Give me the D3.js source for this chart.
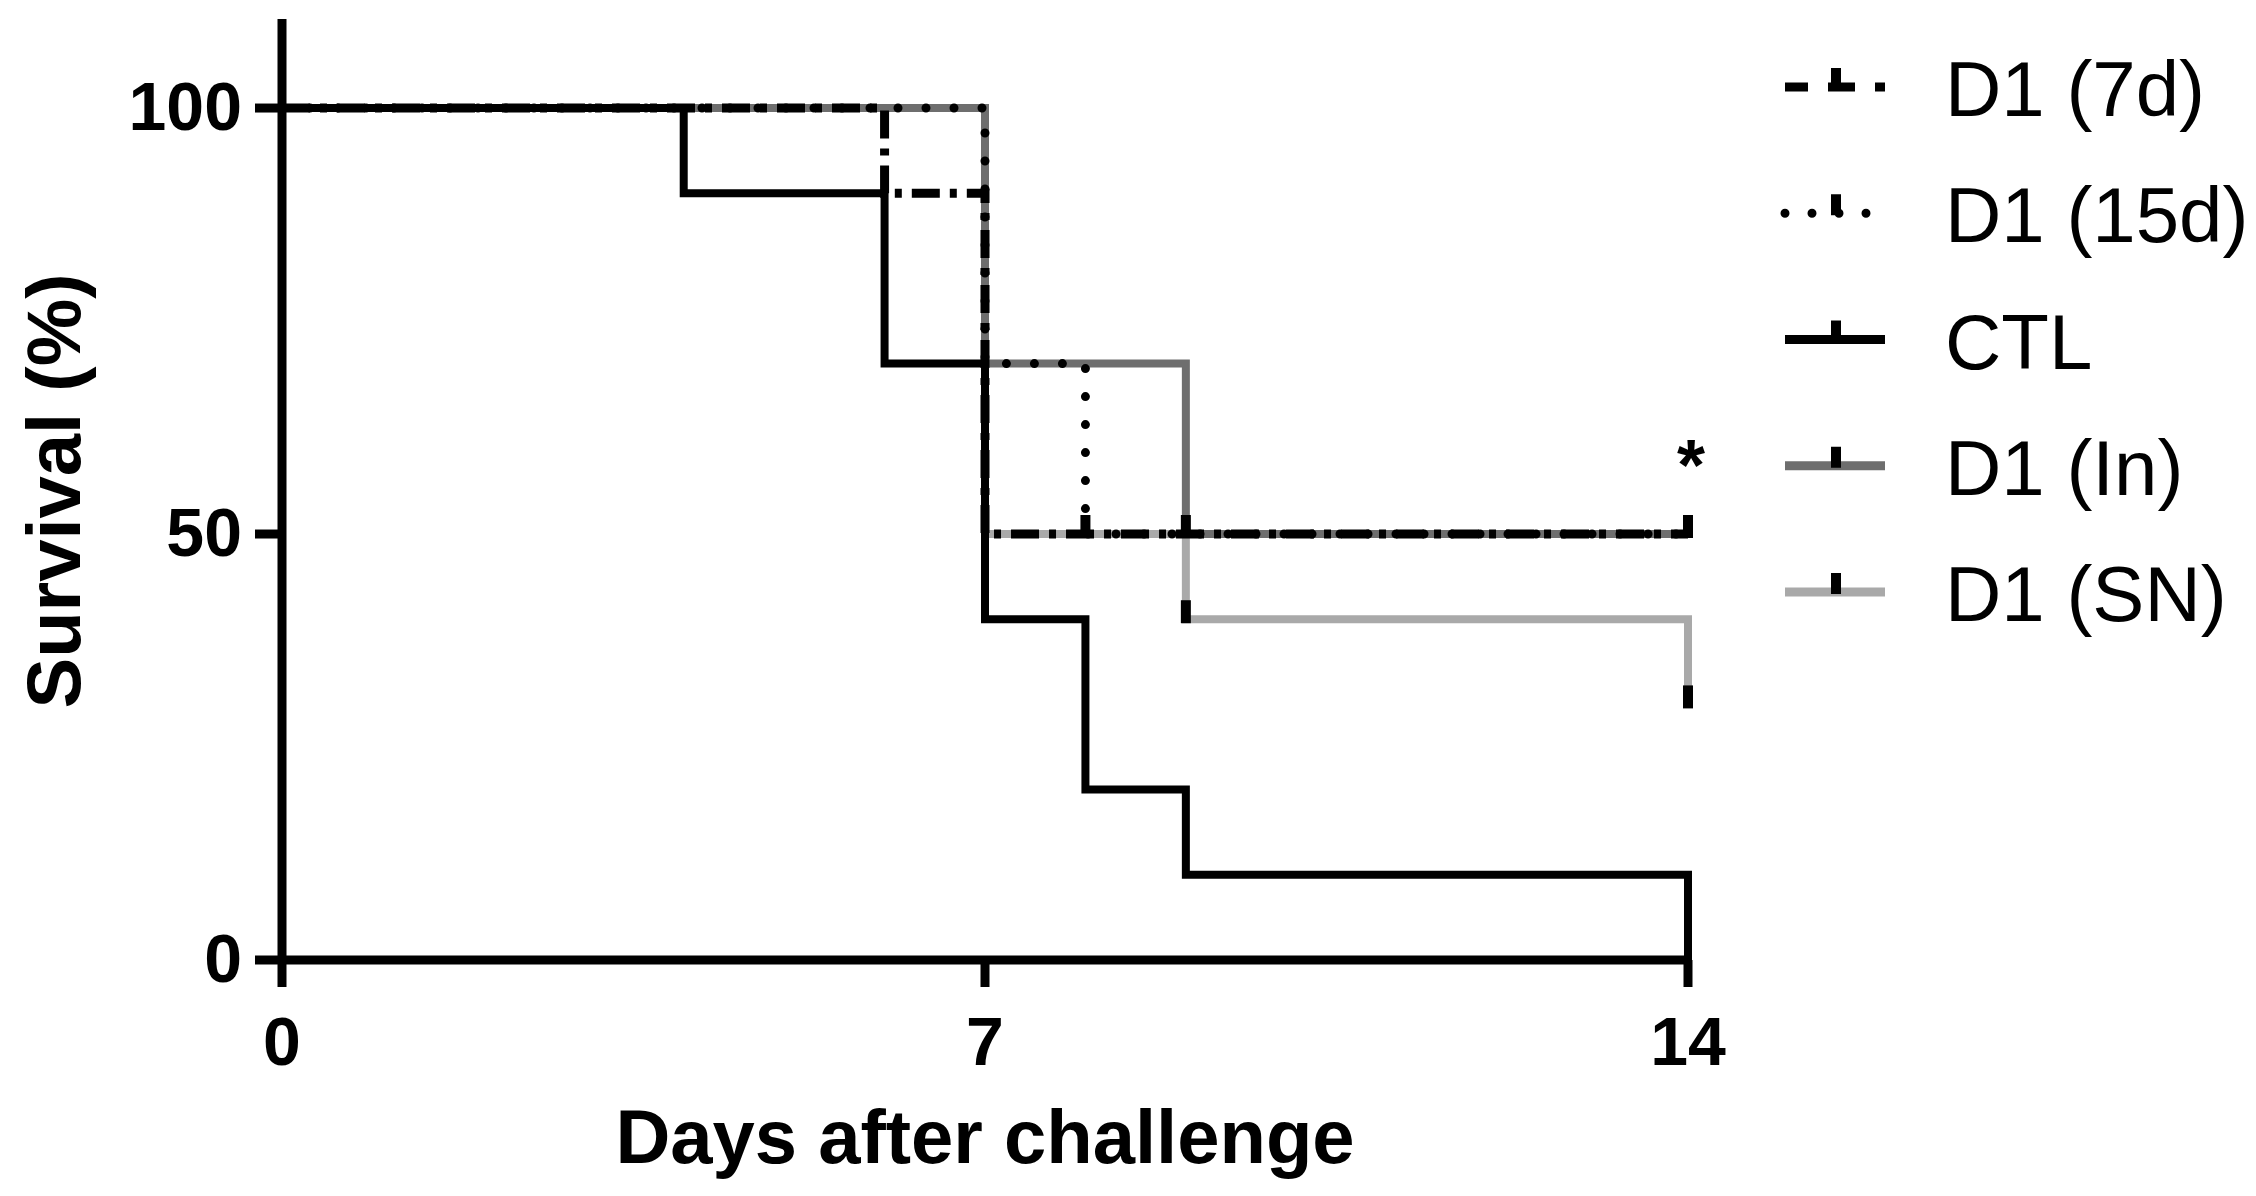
<!DOCTYPE html>
<html>
<head>
<meta charset="utf-8">
<script src="https://cdn.jsdelivr.net/npm/d3@7"></script>
<style>
  html, body { margin: 0; padding: 0; background: #fff; }
  svg { display: block; }
  text { font-family: "Liberation Sans", Arial, Helvetica, sans-serif; fill: #000; }
</style>
</head>
<body>
<svg id="chart" width="2256" height="1196"></svg>
<script>
// ---------------- DATA ----------------
const seriesNames = ["D1 (7d)", "D1 (15d)", "CTL", "D1 (In)", "D1 (SN)"];

// Kaplan-Meier steps: day of change -> survival (%) from that day on
const d7Days  = [0, 6, 7, 14];
const d7Surv  = [100, 90, 50, 50];
const d15Days = [0, 7, 8, 14];
const d15Surv = [100, 70, 50, 50];
const ctlDays = [0, 4, 6, 7, 8, 9, 14];
const ctlSurv = [100, 90, 70, 40, 20, 10, 0];
const inDays  = [0, 7, 9, 14];
const inSurv  = [100, 70, 50, 50];
const snDays  = [0, 7, 9, 14];
const snSurv  = [100, 50, 40, 30];

// censored observations (tick marks)
const d7CensorDays  = [14];
const d7CensorSurv  = [50];
const d15CensorDays = [8, 14];
const d15CensorSurv = [50, 50];
const ctlCensorDays = [];
const ctlCensorSurv = [];
const inCensorDays  = [9, 14];
const inCensorSurv  = [50, 50];
const snCensorDays  = [9, 14];
const snCensorSurv  = [40, 30];

const xTickValues = [0, 7, 14];
const yTickValues = [0, 50, 100];
const xDomain = [0, 14];
const yDomain = [0, 110.45];

const xTitle = "Days after challenge";
const yTitle = "Survival (%)";
const significance = "*";
const significanceAt = [14, 50];

// ---------------- STYLES ----------------
const seriesColor = ["#000000", "#000000", "#000000", "#6e6e6e", "#a9a9a9"];
const seriesDash  = ["28,10,7,10", "0,28", null, null, null];
const seriesCap   = ["butt", "round", "butt", "butt", "butt"];
const seriesWidth = [9, 9, 8, 8, 8];
const legendDash  = ["23,20,27,20,10", "0,27", null, null, null];

const svg = d3.select("#chart");

const x = d3.scaleLinear().domain(xDomain).range([282, 1688]);
const y = d3.scaleLinear().domain(yDomain).range([960, 19]);

const series = [
  {days: d7Days,  surv: d7Surv,  cD: d7CensorDays,  cS: d7CensorSurv},
  {days: d15Days, surv: d15Surv, cD: d15CensorDays, cS: d15CensorSurv},
  {days: ctlDays, surv: ctlSurv, cD: ctlCensorDays, cS: ctlCensorSurv},
  {days: inDays,  surv: inSurv,  cD: inCensorDays,  cS: inCensorSurv},
  {days: snDays,  surv: snSurv,  cD: snCensorDays,  cS: snCensorSurv}
].map((s, i) => Object.assign(s, {name: seriesNames[i], idx: i}));

const line = d3.line()
  .x(d => x(d[0]))
  .y(d => y(d[1]))
  .curve(d3.curveStepAfter);

// draw order: SN, In, 15d, 7d, CTL
const order = [4, 3, 1, 0, 2];
const plot = svg.append("g");

order.forEach(i => {
  const s = series[i];
  const pts = s.days.map((d, k) => [d, s.surv[k]]);
  plot.append("path")
    .attr("d", line(pts))
    .attr("fill", "none")
    .attr("stroke", seriesColor[i])
    .attr("stroke-width", seriesWidth[i])
    .attr("stroke-linejoin", "miter")
    .attr("stroke-linecap", seriesCap[i])
    .attr("stroke-dasharray", seriesDash[i]);
});

// censor ticks (drawn on top)
order.forEach(i => {
  const s = series[i];
  s.cD.forEach((d, k) => {
    plot.append("line")
      .attr("x1", x(d)).attr("x2", x(d))
      .attr("y1", y(s.cS[k]) + 4).attr("y2", y(s.cS[k]) - 19)
      .attr("stroke", "#000")
      .attr("stroke-width", 10);
  });
});

// ---------------- AXES ----------------
const fmt = d3.format("d");
const yAxis = d3.axisLeft(y).tickValues(yTickValues).tickFormat(fmt)
  .tickSize(27).tickSizeOuter(0).tickPadding(13).offset(0);
const xAxis = d3.axisBottom(x).tickValues(xTickValues).tickFormat(fmt)
  .tickSize(27).tickSizeOuter(0).tickPadding(30).offset(0);

const gy = svg.append("g").attr("transform", "translate(282,0)").call(yAxis);
const gx = svg.append("g").attr("transform", "translate(0,960)").call(xAxis);

[gx, gy].forEach(g => {
  g.select(".domain").attr("stroke", "#000").attr("stroke-width", 9);
  g.selectAll(".tick line").attr("stroke", "#000").attr("stroke-width", 9);
  g.selectAll(".tick text")
    .attr("fill", "#000")
    .style("font-family", '"Liberation Sans", Arial, sans-serif')
    .style("font-size", "68px")
    .style("font-weight", "bold");
});
gy.selectAll(".tick text").attr("dy", "0.33em");

// axis titles
svg.append("text")
  .attr("x", 985).attr("y", 1163)
  .attr("text-anchor", "middle")
  .style("font-size", "76px").style("font-weight", "bold")
  .text(xTitle);

svg.append("text")
  .attr("transform", "translate(80,491) rotate(-90)")
  .attr("text-anchor", "middle")
  .style("font-size", "76px").style("font-weight", "bold")
  .text(yTitle);

// significance star
svg.append("text")
  .attr("x", x(significanceAt[0]) + 3).attr("y", y(significanceAt[1]) - 44)
  .attr("text-anchor", "middle")
  .style("font-size", "72px").style("font-weight", "bold")
  .text(significance);

// ---------------- LEGEND ----------------
const legendRowY = d3.scalePoint().domain(seriesNames).range([87, 592]);
const legend = svg.append("g");
series.forEach((s, i) => {
  const ry = legendRowY(s.name);
  const g = legend.append("g");
  g.append("line")
    .attr("x1", 1785).attr("x2", 1885)
    .attr("y1", ry).attr("y2", ry)
    .attr("stroke", seriesColor[i])
    .attr("stroke-width", 9)
    .attr("stroke-linecap", seriesCap[i])
    .attr("stroke-dasharray", legendDash[i]);
  g.append("line")
    .attr("x1", 1836).attr("x2", 1836)
    .attr("y1", ry + 2).attr("y2", ry - 19)
    .attr("stroke", "#000")
    .attr("stroke-width", 10);
  g.append("text")
    .attr("x", 1945).attr("y", ry + 29)
    .style("font-size", "78px")
    .text(s.name);
});
</script>
</body>
</html>
